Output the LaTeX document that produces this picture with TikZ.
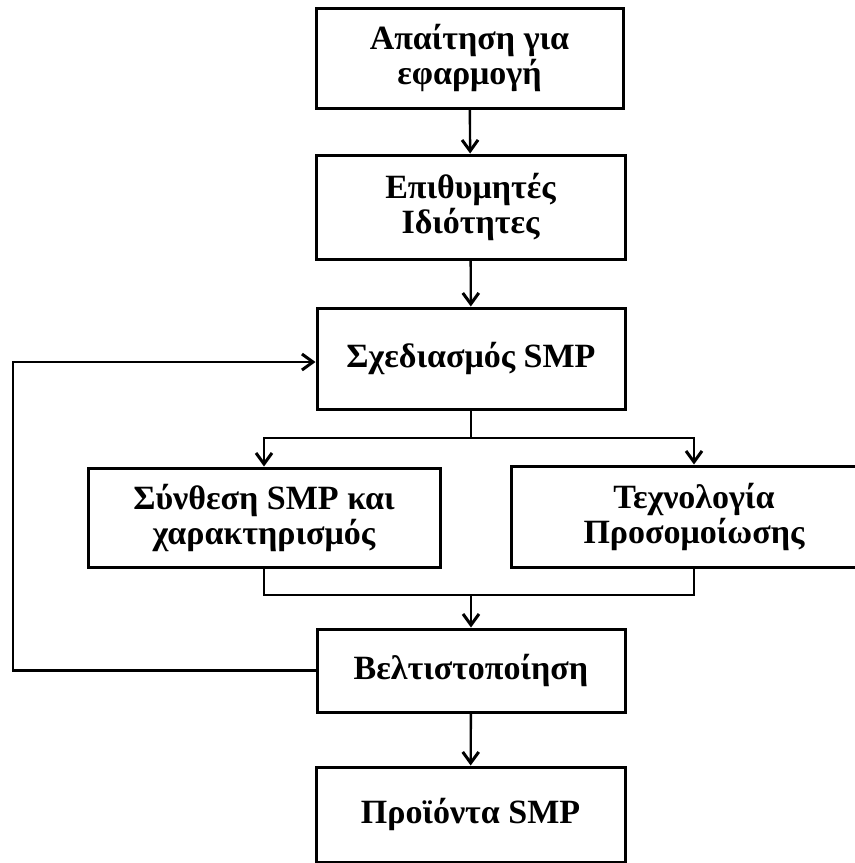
\documentclass[tikz,border=0pt]{standalone}
\usepackage{fontspec}
\setmainfont{Liberation Serif}
\usetikzlibrary{arrows.meta}
\begin{document}
\begin{tikzpicture}[x=0.5pt,y=-0.5pt,
  box/.style={draw=black,line width=1.5pt,inner sep=0pt,align=center,
    font=\fontsize{17}{17.5}\selectfont\bfseries},
  conn/.style={line width=1.2pt},
  arr/.style={conn,-{Straight Barb[length=5.5pt,width=8pt,line width=1.5pt]}}]
\useasboundingbox[fill=white] (0,0) rectangle (855,863);
\node[box,minimum width=153.5pt,minimum height=50pt] (b1) at (469.5,58) {Απαίτηση για\\εφαρμογή};
\node[box,minimum width=154.5pt,minimum height=52pt] (b2) at (470.5,207) {Επιθυμητές\\Ιδιότητες};
\node[box,minimum width=154pt,minimum height=50.5pt] (b3) at (471,358.5) {Σχεδιασμός SMP};
\node[box,minimum width=176pt,minimum height=49.5pt] (b4) at (264,517.5) {Σύνθεση SMP και\\χαρακτηρισμός};
\node[box,minimum width=183pt,minimum height=50.5pt] (b5) at (694,516.5) {Τεχνολογία\\Προσομοίωσης};
\node[box,minimum width=154pt,minimum height=41.5pt] (b6) at (471,670.5) {Βελτιστοποίηση};
\node[box,minimum width=154.5pt,minimum height=47.5pt] (b7) at (470.5,814.5) {Προϊόντα SMP};
\coordinate (split) at (471,438);
\coordinate (merge) at (471,595);
\coordinate (fbt) at (13,362);
\draw[arr] (b1) -- (b2);
\draw[arr] (b2) -- (b3);
\draw[conn] (b3.south) -- (split);
\draw[arr] (split) -| (b4.north);
\draw[arr] (split) -| (b5.north);
\draw[conn] (b4.south) |- (merge) -| (b5.south);
\draw[arr] (merge) -- (b6.north);
\draw[arr,line width=1.4pt] (b6.west) -| (fbt) -- (b3.west |- fbt);
\draw[arr] (b6) -- (b7);
\end{tikzpicture}
\end{document}
